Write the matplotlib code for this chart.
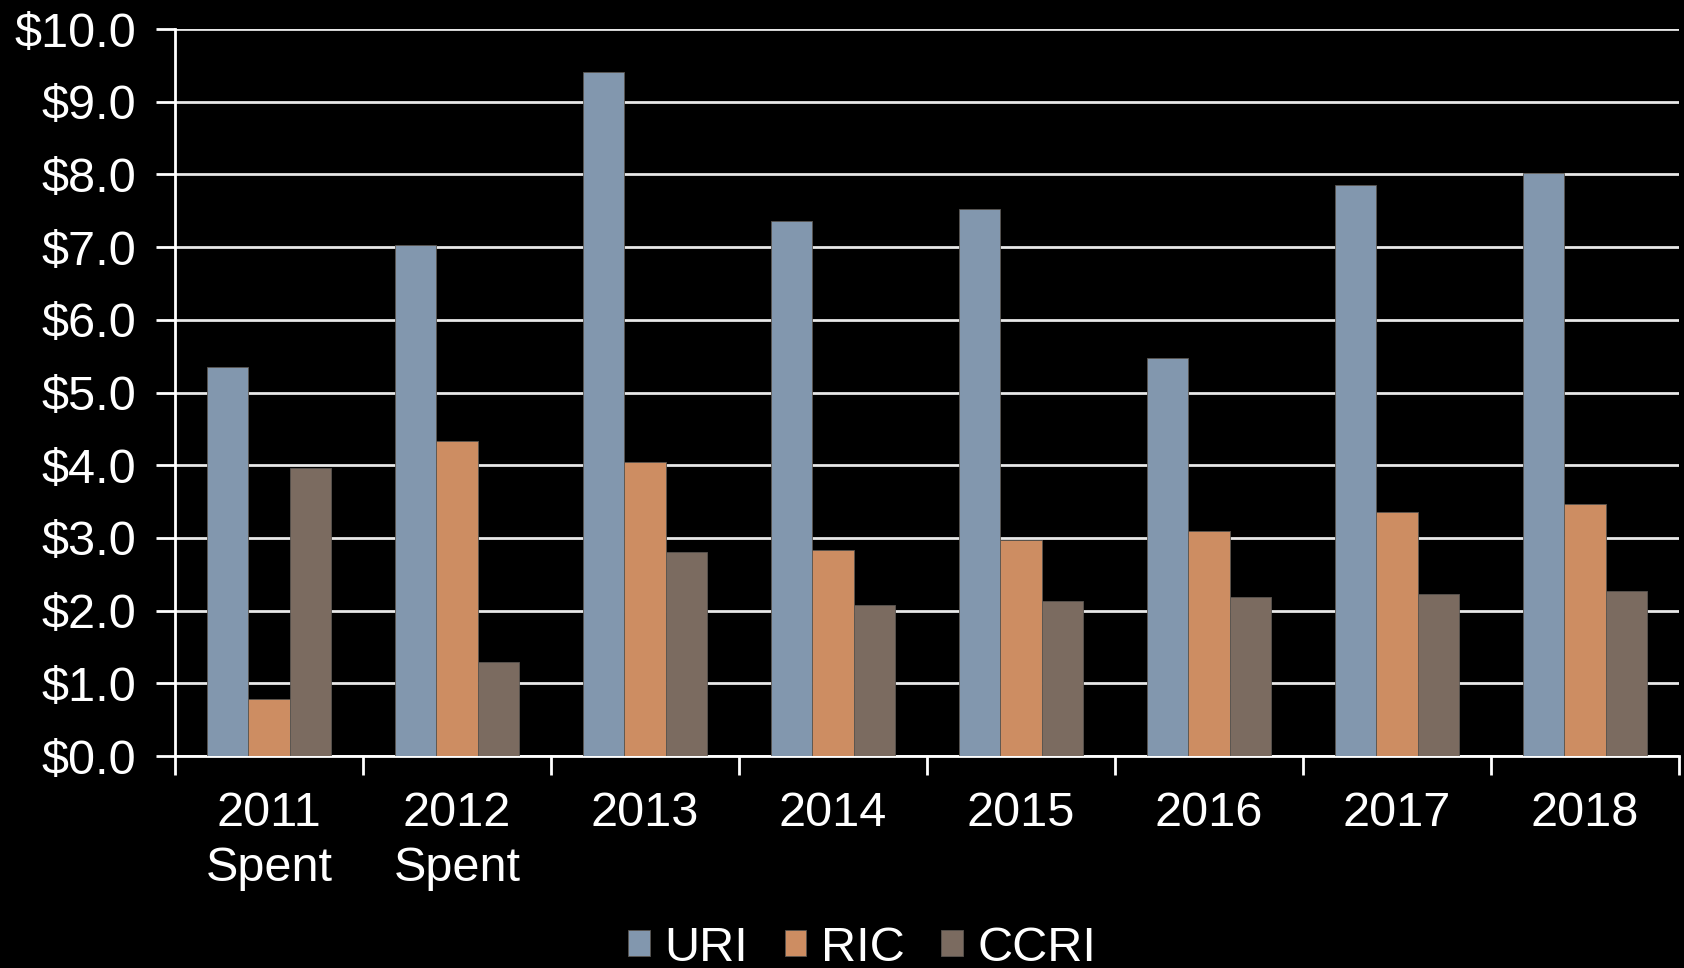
import numpy as np
import matplotlib.pyplot as plt
from matplotlib.ticker import FuncFormatter, MultipleLocator

categories = ["2011\nSpent", "2012\nSpent", "2013", "2014", "2015", "2016", "2017", "2018"]
uri = [5.35, 7.03, 9.41, 7.36, 7.52, 5.48, 7.86, 8.02]
ric = [0.78, 4.34, 4.05, 2.84, 2.97, 3.09, 3.35, 3.46]
ccri = [3.96, 1.30, 2.81, 2.08, 2.13, 2.19, 2.23, 2.27]

series = [("URI", uri, "#8297ae"), ("RIC", ric, "#cd8d62"), ("CCRI", ccri, "#7b6b60")]

plt.rcParams['font.family'] = ['Liberation Sans', 'DejaVu Sans']

fig = plt.figure(figsize=(16.84, 9.68), dpi=100, facecolor="black")
ax = fig.add_axes([0.1039, 0.219, 0.8931, 0.751], facecolor="black")

x = np.arange(len(categories))
w = 0.22
for i, (name, vals, col) in enumerate(series):
    ax.bar(x + (i - 1) * w, vals, w, color=col, edgecolor="#5a5550", linewidth=0.6,
           label=name, zorder=3)

ax.set_xlim(-0.5, len(categories) - 0.5)
ax.set_ylim(0, 10)
ax.yaxis.set_major_locator(MultipleLocator(1))
ax.yaxis.set_major_formatter(FuncFormatter(lambda v, p: f"${v:.1f}"))
ax.grid(axis="y", color="#e8e8e8", linewidth=2, zorder=1)

ax.set_xticks(x)
ax.set_xticklabels(categories, linespacing=1.3)
ax.set_xticks(np.arange(len(categories) + 1) - 0.5, minor=True)
ax.tick_params(axis="x", which="major", length=0, pad=25, labelsize=35, colors="white")
ax.tick_params(axis="x", which="minor", length=14, width=2, color="white")
ax.tick_params(axis="y", length=14, width=2, color="white", labelsize=35,
               labelcolor="white", pad=14)

for s in ["top", "right"]:
    ax.spines[s].set_visible(False)
for s in ["left", "bottom"]:
    ax.spines[s].set_color("white")
    ax.spines[s].set_linewidth(2)

fig.legend(loc="lower center", bbox_to_anchor=(0.512, -0.048), ncol=3, frameon=False,
           fontsize=35, labelcolor="white", handlelength=0.45, handleheight=0.45,
           handletextpad=0.3, columnspacing=0.75)

fig.savefig("out.png", dpi=100, facecolor="black")
